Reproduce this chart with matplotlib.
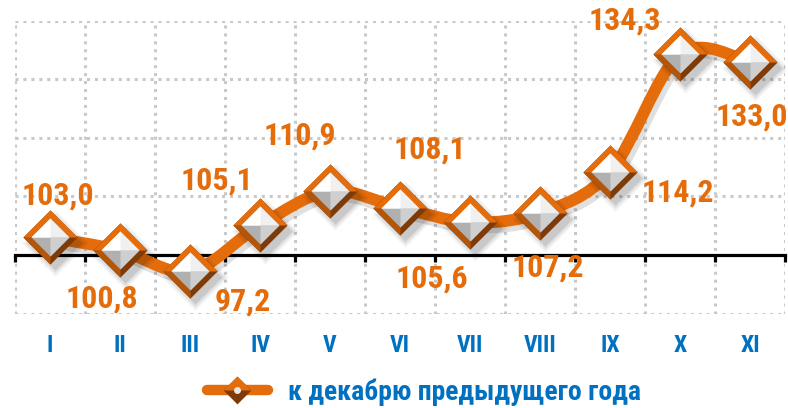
import matplotlib
matplotlib.use('Agg')
import matplotlib.pyplot as plt
import matplotlib.transforms as mtransforms
from matplotlib.path import Path
from matplotlib.patches import PathPatch
from matplotlib.lines import Line2D
from matplotlib.legend_handler import HandlerTuple

months = ['I', 'II', 'III', 'IV', 'V', 'VI', 'VII', 'VIII', 'IX', 'X', 'XI']
values = [103.0, 100.8, 97.2, 105.1, 110.9, 108.1, 105.6, 107.2, 114.2, 134.3, 133.0]
labels = ['103,0', '100,8', '97,2', '105,1', '110,9', '108,1', '105,6', '107,2', '114,2', '134,3', '133,0']
series_name = 'к декабрю предыдущего года'

# label offsets in pixels (dx, dy)
label_off = [(8, 42), (-18, -48), (53, -30), (-43, 45), (-30, 56), (30, 58),
             (-38, -56), (8, -55), (68, -21), (-55, 34), (2, -55)]

ORANGE = '#E46C0A'
BROWN = '#7E3A07'
MIDBROWN = '#B4560A'
BLUE = '#0070C0'
GRID = '#C9C9C9'

plt.rcParams['font.family'] = ['Liberation Sans Narrow', 'Arial Narrow', 'Roboto Condensed',
                               'Archivo Narrow', 'DejaVu Sans']
plt.rcParams['font.weight'] = 'bold'

fig = plt.figure(figsize=(7.88, 4.08), dpi=100)
ax = fig.add_axes([15 / 788, (408 - 313.5) / 408, 770 / 788, 292.5 / 408])
ax.set_xlim(-0.5, len(months) - 0.5)
ax.set_ylim(90, 140)

# dotted grid
for yv in [90, 110, 120, 130, 140]:
    ax.axhline(yv, color=GRID, lw=2.2, ls=(0, (1, 1.6)), zorder=1)
for i in range(len(months) + 1):
    ax.axvline(i - 0.5, color=GRID, lw=2.2, ls=(0, (1, 1.6)), zorder=1)

for s in ['top', 'left', 'right']:
    ax.spines[s].set_visible(False)
ax.spines['bottom'].set_position(('data', 100))
ax.spines['bottom'].set_linewidth(2.3)
ax.spines['bottom'].set_zorder(2)
ax.set_xticks([i - 0.5 for i in range(len(months) + 1)])
ax.set_xticklabels([])
ax.tick_params(axis='x', direction='out', length=5, width=2.3, color='black')
ax.set_yticks([])

xs = list(range(len(values)))
tr = mtransforms.blended_transform_factory(ax.transData, ax.transAxes)
for x, m in zip(xs, months):
    ax.text(x, -0.108, m, transform=tr, ha='center', va='center',
            color=BLUE, fontsize=17)

# smoothed line (bezier through the points)
pts = list(zip(xs, values))
verts = [pts[0]]
codes = [Path.MOVETO]
for i in range(len(pts) - 1):
    p0 = pts[max(i - 1, 0)]
    p1 = pts[i]
    p2 = pts[i + 1]
    p3 = pts[min(i + 2, len(pts) - 1)]
    c1 = (p1[0] + (p2[0] - p0[0]) / 6, p1[1] + (p2[1] - p0[1]) / 6)
    c2 = (p2[0] - (p3[0] - p1[0]) / 6, p2[1] - (p3[1] - p1[1]) / 6)
    verts += [c1, c2, p2]
    codes += [Path.CURVE4] * 3
curve = Path(verts, codes)
shadow_tr = ax.transData + mtransforms.ScaledTranslation(3 / 100, -4 / 100, fig.dpi_scale_trans)
ax.add_patch(PathPatch(curve, fill=False, edgecolor='#000000', alpha=0.12, lw=10,
                       transform=shadow_tr, zorder=3, capstyle='round'))
ax.add_patch(PathPatch(curve, fill=False, edgecolor=ORANGE, lw=8.5, zorder=4,
                       capstyle='round', joinstyle='round'))

diamond = [(0, 1), (1, 0), (0, -1), (-1, 0), (0, 1)]
top_half = [(-1, 0), (0, 1), (1, 0), (-1, 0)]
bl_quarter = [(0, 0), (-1, 0), (0, -1), (0, 0)]
f_top = [(0, 0), (-1, 0), (0, 1), (1, 0), (0, 0)]
f_right = [(0, 0), (1, 0), (0, -1), (0, 0)]
f_tl = [(0, 0), (-1, 0), (0, 1), (0, 0)]


def draw_markers(ms, z):
    st = ax.transData + mtransforms.ScaledTranslation(5 / 100, -6 / 100, fig.dpi_scale_trans)
    for k, a in [(1.22, 0.05), (1.11, 0.07), (1.0, 0.1)]:
        ax.plot(xs, values, ls='none', marker=diamond, ms=ms * k, mfc='black', mew=0,
                alpha=a, transform=st, zorder=z)
    ax.plot(xs, values, ls='none', marker=diamond, ms=ms, mfc=BROWN, mew=0, zorder=z + 1)
    ax.plot(xs, values, ls='none', marker=bl_quarter, ms=ms, mfc=MIDBROWN, mew=0, zorder=z + 1)
    ax.plot(xs, values, ls='none', marker=top_half, ms=ms, mfc=ORANGE, mew=0, zorder=z + 2)
    inner = ms * 0.7
    ax.plot(xs, values, ls='none', marker=diamond, ms=inner, mfc='#B0B0B0', mew=0, zorder=z + 3)
    ax.plot(xs, values, ls='none', marker=f_right, ms=inner, mfc='#CFCFCF', mew=0, zorder=z + 4)
    ax.plot(xs, values, ls='none', marker=f_top, ms=inner, mfc='#F0F0F0', mew=0, zorder=z + 5)
    ax.plot(xs, values, ls='none', marker=f_tl, ms=inner, mfc='#FFFFFF', mew=0, zorder=z + 6)


draw_markers(39, 5)

for x, v, t, (dx, dy) in zip(xs, values, labels, label_off):
    ax.annotate(t, (x, v), xytext=(dx, dy), textcoords='offset pixels',
                ha='center', va='center', color=ORANGE, fontsize=23, zorder=20)

# legend
h_line = Line2D([], [], color=ORANGE, lw=7.5, solid_capstyle='round')
h_d1 = Line2D([], [], ls='none', marker=diamond, ms=20, mfc=BROWN, mew=0)
h_d2 = Line2D([], [], ls='none', marker=top_half, ms=20, mfc=ORANGE, mew=0)
h_d3 = Line2D([], [], ls='none', marker='o', ms=5, mfc='#E8E8E8', mew=0)
fig.legend([(h_line, h_d1, h_d2, h_d3)], [series_name],
           handler_map={tuple: HandlerTuple(ndivide=1, pad=0)},
           loc='center', bbox_to_anchor=(424 / 788, 1 - 392 / 408),
           frameon=False, fontsize=20, handlelength=2.2, handletextpad=0.75,
           labelcolor=BLUE)

fig.savefig('out.png', dpi=100)
